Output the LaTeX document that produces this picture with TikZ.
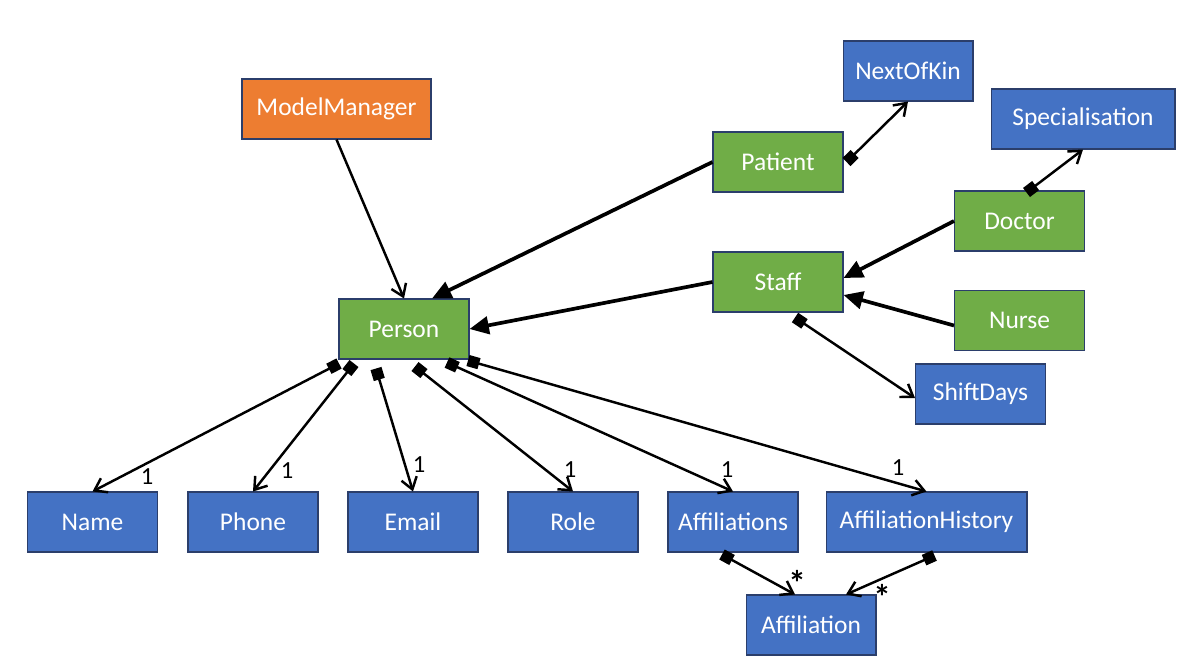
\documentclass[tikz,border=0pt]{standalone}
\usepackage{fontspec}
\setmainfont{Carlito}
\usetikzlibrary{calc, positioning, arrows.meta}

\definecolor{boxblue}{HTML}{4472C4}
\definecolor{boxgreen}{HTML}{70AD47}
\definecolor{boxorange}{HTML}{ED7D31}
\definecolor{boxedge}{HTML}{2B3E6B}

\tikzset{
  cls/.style={draw=boxedge, line width=0.6pt, text=white, minimum width=2.6cm, minimum height=1.2cm, inner sep=0pt, font=\fontsize{14.5}{16}\selectfont},
  bluecls/.style={cls, fill=boxblue},
  greencls/.style={cls, fill=boxgreen},
  orangecls/.style={cls, fill=boxorange},
  inherit/.style={line width=2.1pt, -{Triangle[length=11pt,width=10pt]}},
  uses/.style={line width=1.4pt, -{Straight Barb[length=6.5pt,width=9pt]}},
  owns/.style={line width=1.4pt, {Square[length=6.5pt,width=6.5pt]}-{Straight Barb[length=6.5pt,width=9pt]}},
  mult/.style={font=\fontsize{14}{16}\selectfont, inner sep=0pt},
  many/.style={font=\fontsize{20}{20}\selectfont\bfseries, inner sep=0pt},
}

\begin{document}
\begin{tikzpicture}[x=0.02cm, y=-0.02cm] % pixel grid of the layout
    \useasboundingbox (0,0) rectangle (1185,667);

    % classes
    \node[orangecls, minimum width=3.78cm] (mm) at (336.5,109) {ModelManager};
    \node[greencls] (person) at (404,329) {Person};
    \node[greencls] (patient) at (778,162) {Patient};
    \node[greencls] (staff) at (778,282) {Staff};
    \node[greencls] (doctor) at (1019.5,221) {Doctor};
    \node[greencls] (nurse) at (1019.5,320.5) {Nurse};
    \node[bluecls] (nok) at (908,71) {NextOfKin};
    \node[bluecls, minimum width=3.68cm] (spec) at (1083,119) {Specialisation};
    \node[bluecls] (shift) at (980.5,394) {ShiftDays};

    \foreach \nm/\txt/\x in {name/Name/92.5, phone/Phone/253, email/Email/413, role/Role/573, affs/Affiliations/733} {
        \node[bluecls] (\nm) at (\x,522) {\txt};
    }
    \node[bluecls, minimum width=4.02cm] (hist) at (926.5,522) {AffiliationHistory};
    \node[bluecls] (affil) at (811,625) {Affiliation};

    % inheritance arrows
    \draw[inherit] (patient.west) -- ($(person.north)+(28,0)$);
    \draw[inherit] (staff.west) -- (person.east);
    \draw[inherit] (doctor.west) -- ($(staff.east)+(0,-4)$);
    \draw[inherit] ($(nurse.west)+(0,5)$) -- ($(staff.east)+(0,13)$);

    % plain use
    \draw[uses] (mm.south) -- (person.north);

    % owned parts
    \draw[owns] ($(patient.east)+(3,0)$) -- (nok.south);
    \draw[owns] ($(doctor.north)+(7,2)$) -- (spec.south);
    \draw[owns] ($(staff.south)+(17,5)$) -- ($(shift.west)+(0,4)$);

    \foreach \nm/\dx/\dy/\lx/\ly in {name/-65/4/147/477, phone/-50/4/287/471, email/-28/9/419/465, role/11/7/570/470, affs/43/3/727/470, hist/64/1/898/468} {
        \draw[owns] ($(person.south)+(\dx,\dy)$) -- (\nm.north);
        \node[mult] (\nm-m) at (\lx,\ly) {1};
    }

    % many affiliations
    \draw[owns] ($(affs.south)+(-11,2)$) -- ($(affil.north)+(-16,0)$);
    \draw[owns] ($(hist.south)+(8,3)$) -- ($(affil.north)+(35,0)$);
    \node[many] (affs-m) at (797,583) {*};
    \node[many] (hist-m) at (882,597) {*};

\end{tikzpicture}
\end{document}
